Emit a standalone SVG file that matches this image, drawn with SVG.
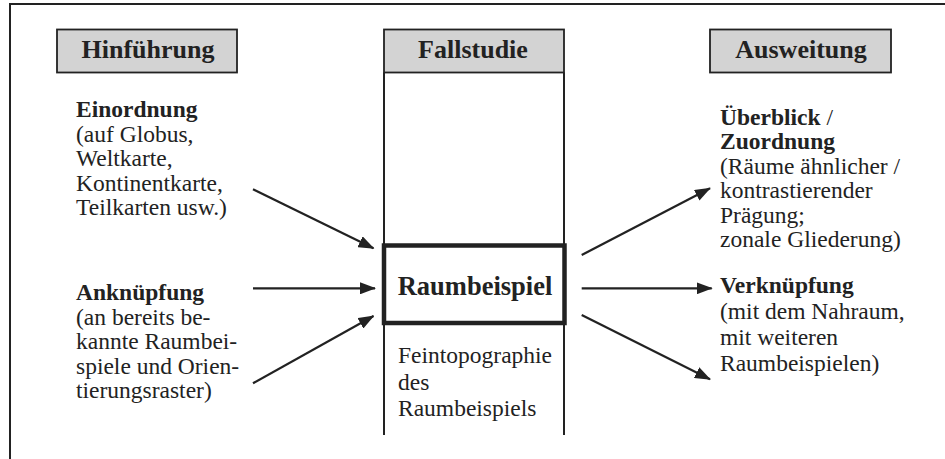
<svg xmlns="http://www.w3.org/2000/svg" width="945" height="459" viewBox="0 0 945 459">
<style>
.hdr{fill:#d3d3d3;stroke:#222;stroke-width:1.8}
.ht{font-family:"Liberation Serif","Times New Roman",serif;font-weight:bold;font-size:26px;fill:#222;text-anchor:middle}
.b{font-family:"Liberation Serif","Times New Roman",serif;font-weight:bold;font-size:23.5px;fill:#222}
.t{font-family:"Liberation Serif","Times New Roman",serif;font-size:23.5px;fill:#222}
.ln{stroke:#222;stroke-width:2;fill:none}
.ar{stroke:#222;stroke-width:2.2;fill:none;marker-end:url(#ah)}
</style>
<defs>
<marker id="ah" viewBox="0 0 16 12" refX="15" refY="6" markerWidth="16" markerHeight="12" markerUnits="userSpaceOnUse" orient="auto">
<path d="M0,0 L16,6 L0,12 z" fill="#222"/>
</marker>
</defs>
<rect width="945" height="459" fill="#fff"/>
<path class="ln" d="M10,459 L10,4 L945,4"/>
<g id="hinfuehrung">
<rect class="hdr" x="57" y="29.5" width="180" height="43"/>
<text class="ht" x="148" y="58">Hinführung</text>
</g>
<g id="fallstudie">
<rect class="hdr" x="384" y="29.5" width="180" height="43"/>
<text class="ht" x="473" y="58">Fallstudie</text>
<path class="ln" d="M384,72.5 L384,435 M564,72.5 L564,435"/>
</g>
<g id="ausweitung">
<rect class="hdr" x="710" y="29.5" width="181" height="43"/>
<text class="ht" x="801" y="58">Ausweitung</text>
</g>
<g id="einordnung">
<text class="b" x="76" y="117.3">Einordnung</text>
<text class="t" x="76" y="141.7">(auf Globus,</text>
<text class="t" x="76" y="166.1">Weltkarte,</text>
<text class="t" x="76" y="190.5">Kontinentkarte,</text>
<text class="t" x="76" y="215">Teilkarten usw.)</text>
</g>
<g id="anknuepfung">
<text class="b" x="76" y="300">Anknüpfung</text>
<text class="t" x="76" y="324.5">(an bereits be-</text>
<text class="t" x="76" y="349">kannte Raumbei-</text>
<text class="t" x="76" y="373.5">spiele und Orien-</text>
<text class="t" x="76" y="398">tierungsraster)</text>
</g>
<g id="raumbeispiel">
<rect x="384" y="245.5" width="180.5" height="77.5" fill="#fff" stroke="#222" stroke-width="4.5"/>
<text class="ht" x="475" y="295" style="font-size:26.5px">Raumbeispiel</text>
</g>
<g id="feintopographie">
<text class="t" x="398" y="363.3">Feintopographie</text>
<text class="t" x="398" y="389.8">des</text>
<text class="t" x="398" y="416.3">Raumbeispiels</text>
</g>
<g id="ueberblick">
<text class="b" x="720" y="124.5"><tspan>Überblick</tspan><tspan font-weight="normal"> /</tspan></text>
<text class="b" x="720" y="149">Zuordnung</text>
<text class="t" x="720" y="173.5">(Räume ähnlicher /</text>
<text class="t" x="720" y="198">kontrastierender</text>
<text class="t" x="720" y="222.5">Prägung;</text>
<text class="t" x="720" y="247">zonale Gliederung)</text>
</g>
<g id="verknuepfung">
<text class="b" x="720" y="293.3">Verknüpfung</text>
<text class="t" x="720" y="319">(mit dem Nahraum,</text>
<text class="t" x="720" y="344.8">mit weiteren</text>
<text class="t" x="720" y="370.5">Raumbeispielen)</text>
</g>
<g id="connectors">
<line class="ar" x1="253" y1="189.3" x2="373.5" y2="248.3"/>
<line class="ar" x1="253" y1="288.3" x2="375" y2="288.3"/>
<line class="ar" x1="253" y1="383.3" x2="373.5" y2="316"/>
<line class="ar" x1="581.7" y1="255" x2="710" y2="188.3"/>
<line class="ar" x1="581.7" y1="288.3" x2="711.7" y2="288.3"/>
<line class="ar" x1="581.7" y1="315" x2="710" y2="379.3"/>
</g>
</svg>
